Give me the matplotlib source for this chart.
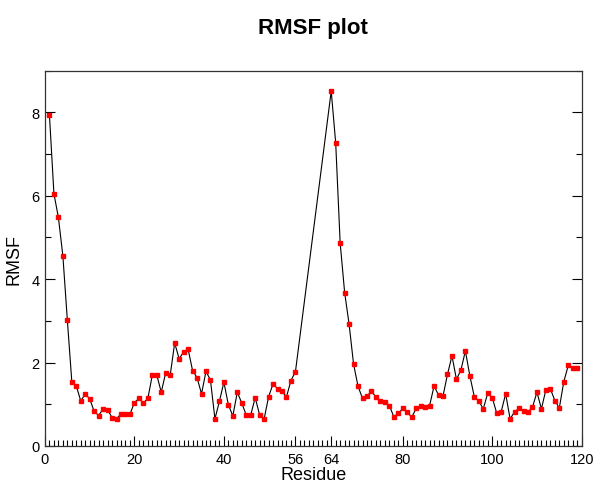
import numpy as np
import matplotlib.pyplot as plt
from matplotlib.ticker import MultipleLocator

plt.rcParams['font.family'] = ['Liberation Sans', 'DejaVu Sans']

# residues 1-56 and 64-119 (57-63 missing)
residues = list(range(1, 57)) + list(range(64, 120))
rmsf = [
    7.93, 6.05, 5.48, 4.56, 3.02, 1.54, 1.44, 1.08, 1.25, 1.13,
    0.83, 0.73, 0.89, 0.87, 0.68, 0.65, 0.77, 0.77, 0.76, 1.04,
    1.14, 1.03, 1.14, 1.70, 1.70, 1.29, 1.76, 1.70, 2.47, 2.09,
    2.26, 2.32, 1.81, 1.64, 1.25, 1.79, 1.58, 0.65, 1.07, 1.53,
    0.99, 0.72, 1.29, 1.03, 0.74, 0.74, 1.16, 0.74, 0.65, 1.18,
    1.49, 1.37, 1.31, 1.18, 1.57, 1.78,
    8.51, 7.27, 4.87, 3.68, 2.92, 1.96, 1.43, 1.14, 1.19, 1.32,
    1.17, 1.09, 1.05, 0.97, 0.70, 0.78, 0.90, 0.81, 0.69, 0.90,
    0.95, 0.93, 0.97, 1.44, 1.22, 1.20, 1.72, 2.16, 1.60, 1.82,
    2.28, 1.68, 1.18, 1.08, 0.89, 1.27, 1.16, 0.79, 0.82, 1.25,
    0.65, 0.82, 0.90, 0.85, 0.81, 0.93, 1.29, 0.89, 1.35, 1.37,
    1.09, 0.91, 1.54, 1.93, 1.87, 1.88,
]
xticks = [0, 20, 40, 56, 64, 80, 100, 120]
yticks = [0, 2, 4, 6, 8]

fig = plt.figure(figsize=(5.95, 4.85), dpi=100)
ax = fig.add_axes([0.0756, 0.0784, 0.902, 0.7738])

ax.plot(residues, rmsf, color='black', lw=0.8, marker='s', ms=2.2,
        mfc='red', mec='red', zorder=3)

ax.set_xlim(0, 120)
ax.set_ylim(0, 9)
ax.set_xticks(xticks)
ax.set_yticks(yticks)
ax.xaxis.set_minor_locator(MultipleLocator(1))
ax.yaxis.set_minor_locator(MultipleLocator(1))
ax.tick_params(which='both', direction='in', top=False, right=True,
               labelsize=10.5, width=0.8, color='black')
ax.tick_params(which='major', length=7, pad=4)
ax.tick_params(which='minor', length=4)
for s in ax.spines.values():
    s.set_linewidth(0.9)
    s.set_color('#333333')

ax.set_xlabel('Residue', fontsize=13, labelpad=0)
ax.set_ylabel('RMSF', fontsize=13, labelpad=6)
ax.set_title('RMSF plot', fontsize=16, fontweight='bold', pad=27)

fig.savefig('out.png', dpi=100)
